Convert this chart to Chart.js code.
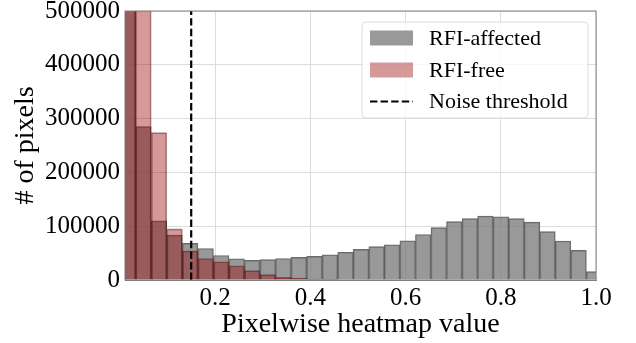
<!DOCTYPE html>
<html>
<head>
<meta charset="utf-8">
<script src="https://cdn.jsdelivr.net/npm/chart.js@4/dist/chart.umd.min.js"></script>
<style>
	body { margin: 0; background: #fff; }
	canvas { display: block; }
</style>
</head>
<body>
<canvas id="myChart" width="636" height="343"></canvas>
<script>
//Histogram data (bin centres on the heatmap value axis)

const binCenters = [0.0172, 0.0498, 0.0825, 0.1151, 0.1477, 0.1804, 0.2130, 0.2456, 0.2782, 0.3109,
	0.3435, 0.3761, 0.4088, 0.4414, 0.4740, 0.5067, 0.5393, 0.5719, 0.6045, 0.6372,
	0.6698, 0.7024, 0.7351, 0.7677, 0.8003, 0.8330, 0.8656, 0.8982, 0.9308, 0.9635, 0.9961];

const rfiAffected = [620000, 285000, 110000, 83500, 68000, 58500, 45500, 39500, 36500, 38000,
	40000, 42000, 44000, 47000, 51500, 57000, 62000, 65500, 73000, 84500,
	97500, 108500, 114000, 119000, 117500, 114000, 107500, 90000, 72500, 55000, 15500];

const rfiFree = [900000, 700000, 274000, 95000, 54000, 40000, 34000, 26500, 17500, 10000,
	5000, 3500, 1500, 500, 0, 0, 0, 0, 0, 0,
	0, 0, 0, 0, 0, 0, 0, 0, 0, 0, 0];

const noiseThreshold = 0.15;
const xTicks = [0.2, 0.4, 0.6, 0.8, 1.0];
const yTicks = [0, 100000, 200000, 300000, 400000, 500000];

const serif = "'Liberation Serif', 'DejaVu Serif', serif";

//Legend box drawn inside the plot, top right

const legendBox = {
	id: 'legendBox',
	afterDraw(chart) {
		const ctx = chart.ctx;
		const x = 362, y = 22, w = 226, h = 96;
		ctx.save();
		ctx.beginPath();
		ctx.roundRect(x, y, w, h, 4);
		ctx.fillStyle = 'rgba(255,255,255,0.8)';
		ctx.fill();
		ctx.strokeStyle = '#dcdcdc';
		ctx.lineWidth = 1;
		ctx.stroke();

		let rows = [38, 70, 101.5];
		let ds = chart.data.datasets;
		ctx.font = '22px ' + serif;
		ctx.textBaseline = 'middle';
		ctx.fillStyle = '#000';
		for (let i = 0; i < ds.length; i++) {
			let cy = rows[i];
			if (ds[i].type === 'line') {
				ctx.beginPath();
				ctx.setLineDash(ds[i].borderDash);
				ctx.strokeStyle = ds[i].borderColor;
				ctx.lineWidth = ds[i].borderWidth;
				ctx.moveTo(370, cy);
				ctx.lineTo(413, cy);
				ctx.stroke();
				ctx.setLineDash([]);
			} else {
				ctx.fillStyle = ds[i].backgroundColor;
				ctx.fillRect(370, cy - 7.5, 43, 15);
			}
			ctx.fillStyle = '#000';
			ctx.fillText(ds[i].label, 429, cy + 1);
		}
		ctx.restore();
	}
};

//Top and right spines

const frame = {
	id: 'frame',
	afterDatasetsDraw(chart) {
		const a = chart.chartArea;
		const ctx = chart.ctx;
		ctx.save();
		ctx.strokeStyle = '#808080';
		ctx.lineWidth = 1;
		ctx.strokeRect(a.left, a.top, a.right - a.left, a.bottom - a.top);
		ctx.restore();
	}
};

const ctx = document.getElementById('myChart').getContext('2d');
const myChart = new Chart(ctx, {
	type: 'bar',
	data: {
		datasets: [{
			label: 'RFI-affected',
			data: binCenters.map((c, i) => ({ x: c, y: rfiAffected[i] })),
			backgroundColor: 'rgba(128, 128, 128, 0.8)',
			borderColor: 'rgba(70, 70, 70, 0.8)',
			borderWidth: 1,
			order: 3,
			clip: 0
		}, {
			label: 'RFI-free',
			data: binCenters.map((c, i) => ({ x: c, y: rfiFree[i] })),
			backgroundColor: 'rgba(150, 0, 0, 0.4)',
			borderColor: 'rgba(70, 0, 0, 0.45)',
			borderWidth: 1,
			order: 2,
			clip: 0
		}, {
			type: 'line',
			label: 'Noise threshold',
			data: [{ x: noiseThreshold, y: 0 }, { x: noiseThreshold, y: 500000 }],
			borderColor: '#000',
			borderWidth: 2.2,
			borderDash: [7.4, 3.2],
			pointRadius: 0,
			order: 1,
			clip: 0
		}]
	},
	options: {
		responsive: false,
		animation: false,
		layout: { padding: { top: 0, right: 40, left: 0, bottom: 0 } },
		datasets: {
			bar: { grouped: false, barPercentage: 1, categoryPercentage: 1 }
		},
		plugins: {
			legend: { display: false },
			tooltip: { enabled: false }
		},
		scales: {
			x: {
				type: 'linear',
				offset: false,
				min: 0.011,
				max: 1.0,
				afterBuildTicks: s => { s.ticks = xTicks.map(v => ({ value: v })); },
				afterFit: s => { s.height = 63; },
				ticks: {
					color: '#000',
					font: { family: serif, size: 25 },
					padding: 3,
					maxRotation: 0,
					callback: v => v.toFixed(1)
				},
				grid: { color: '#dddddd', drawTicks: false, offset: false },
				border: { color: '#808080' },
				title: {
					display: true,
					text: 'Pixelwise heatmap value',
					color: '#000',
					font: { family: serif, size: 28 },
					padding: { top: 0, bottom: 2 }
				}
			},
			y: {
				min: 0,
				max: 500000,
				afterBuildTicks: s => { s.ticks = yTicks.map(v => ({ value: v })); },
				afterFit: s => { s.width = 125; s.paddingTop = 11; s.paddingBottom = 0; },
				ticks: {
					color: '#000',
					font: { family: serif, size: 25 },
					padding: 5,
					callback: v => String(v)
				},
				grid: { color: '#dddddd', drawTicks: false },
				border: { color: '#808080' },
				title: {
					display: true,
					text: '# of pixels',
					color: '#000',
					font: { family: serif, size: 28 },
					padding: { top: 9, bottom: 0 }
				}
			}
		}
	},
	plugins: [frame, legendBox]
});
</script>
</body>
</html>
